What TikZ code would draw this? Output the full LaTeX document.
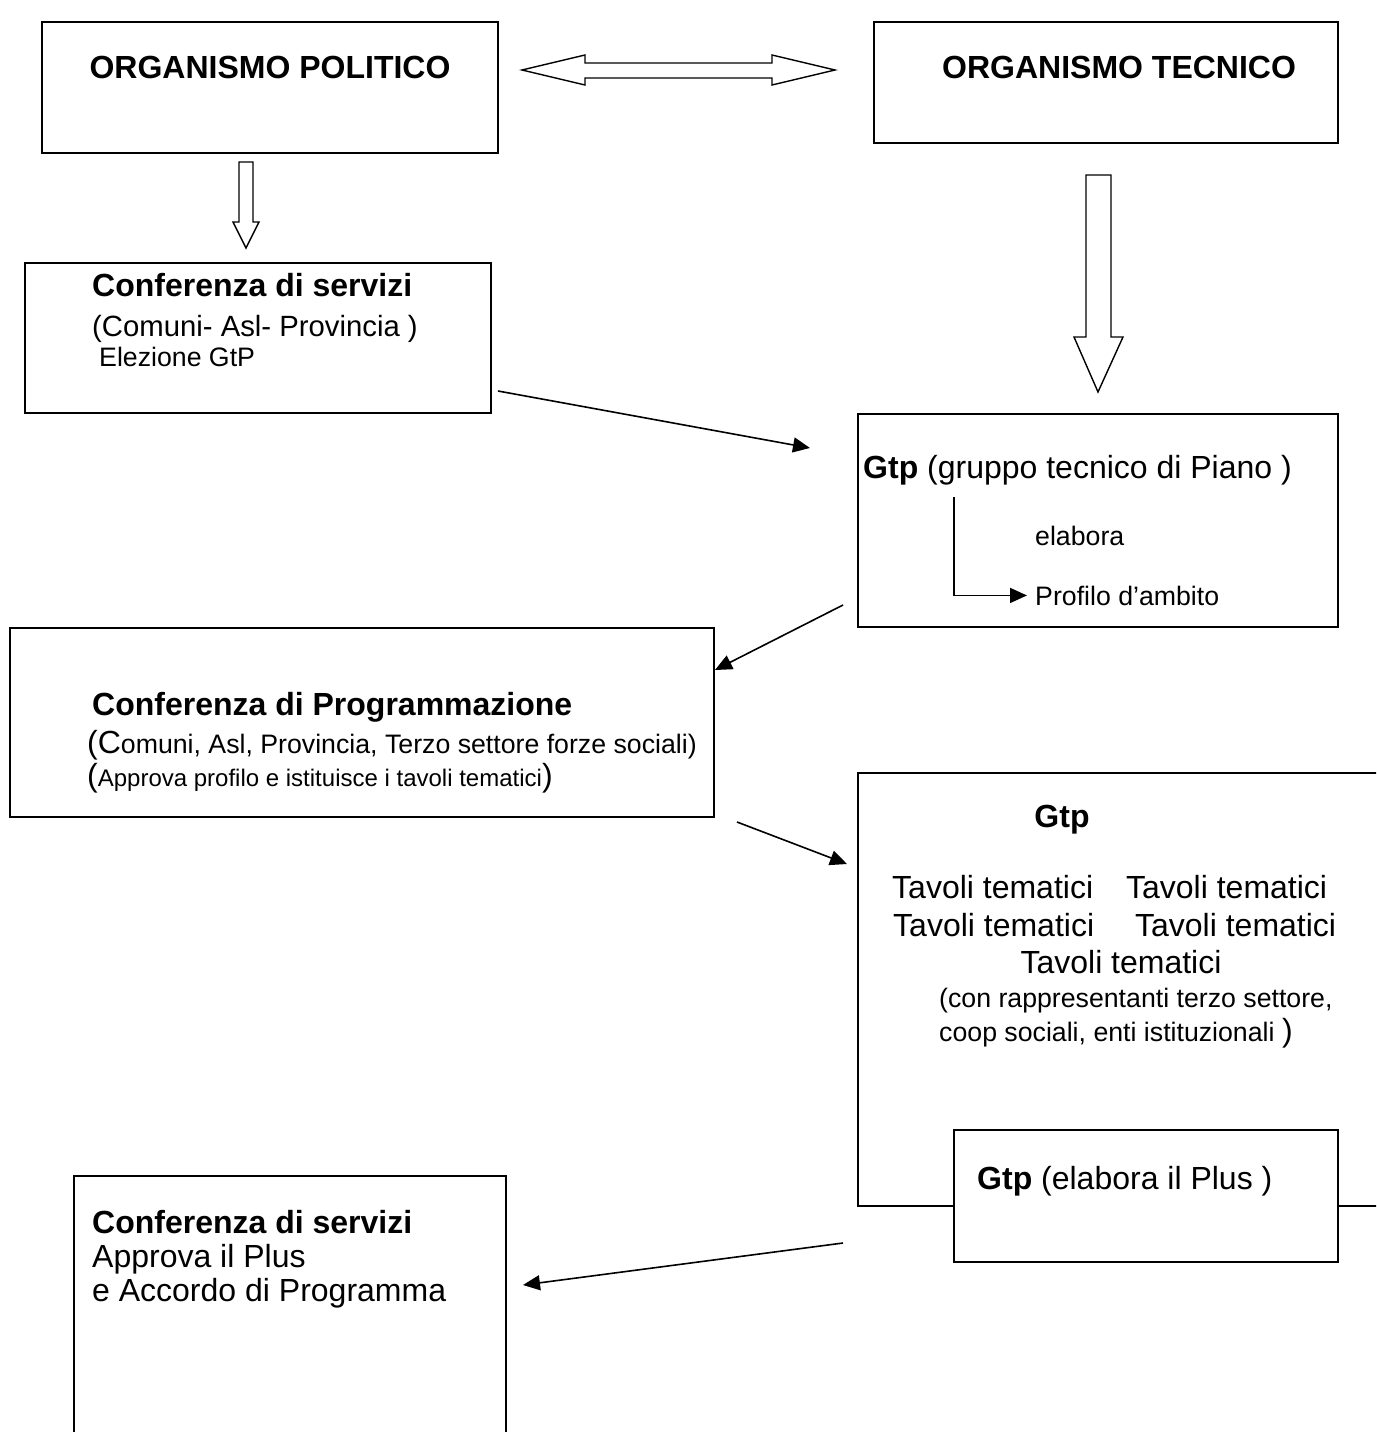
\documentclass[tikz,border=0pt]{standalone}
\usepackage{fontspec}
\setmainfont{Liberation Sans}
\usetikzlibrary{arrows.meta}

\newcommand\fsA{\fontsize{32}{37}\selectfont}
\newcommand\fsB{\fontsize{29.3}{34}\selectfont}
\newcommand\fsC{\fontsize{26.7}{31}\selectfont}
\newcommand\fsD{\fontsize{24}{28}\selectfont}

\begin{document}
\begin{tikzpicture}[x=1pt, y=-1pt,
    box/.style={draw, line width=1.6pt, fill=white, inner sep=0pt},
    txt/.style={anchor=base west, inner sep=0pt, font=\fsA},
    hollow/.style={draw, line width=1.4pt, fill=white, line join=miter},
    link/.style={line width=1.6pt, -{Triangle[length=17pt,width=15pt]}}
  ]
  \clip (0,0) rectangle (1376,1432);
  \fill[white] (0,0) rectangle (1376,1432);

  % Define coordinates
  \coordinate (a1s) at (498,391);
  \coordinate (a1e) at (810,448);
  \coordinate (a2s) at (843,605);
  \coordinate (a2e) at (715,670);
  \coordinate (a3s) at (737,822);
  \coordinate (a3e) at (847,864);
  \coordinate (a4s) at (843,1243);
  \coordinate (a4e) at (523,1285);
  \coordinate (ltop) at (954,497);

  % Boxes
  \node[box, minimum width=456, minimum height=131] (pol) at (270,87.5) {};
  \node[box, minimum width=464, minimum height=121] (tec) at (1106,82.5) {};
  \node[box, minimum width=466, minimum height=150] (cs1) at (258,338) {};
  \node[box, minimum width=480, minimum height=213] (gtp1) at (1098,520.5) {};
  \node[box, minimum width=704, minimum height=189] (prog) at (362,722.5) {};
  \node[box, minimum width=542, minimum height=433] (gtp2) at (1129,989.5) {};
  \node[box, minimum width=384, minimum height=132] (plus) at (1146,1196) {};
  \node[box, minimum width=432, minimum height=284] (cs2) at (290,1318) {};

  % Texts
  \node[txt, anchor=base] (polt) at (270,78) {\bfseries ORGANISMO POLITICO};
  \node[txt] (tect) at (942,78) {\bfseries ORGANISMO TECNICO};

  \node[txt] (cs1a) at (92,296) {\bfseries Conferenza di servizi};
  \node[txt, font=\fsB] (cs1b) at (92,336) {(Comuni- Asl- Provincia )};
  \node[txt, font=\fsC] (cs1c) at (99,366) {Elezione GtP};

  \node[txt] (gtp1a) at (863,478) {\textbf{Gtp} (gruppo tecnico di Piano )};
  \node[txt, font=\fsC] (elab) at (1035,545) {elabora};
  \node[txt, font=\fsC] (prof) at (1035,605) {Profilo d’ambito};

  \node[txt] (proga) at (92,715) {\bfseries Conferenza di Programmazione};
  \node[txt] (progb) at (87,753) {(C{\fsC omuni, Asl, Provincia, Terzo settore forze sociali)}};
  \node[txt] (progc) at (87,786) {({\fsD Approva profilo e istituisce i tavoli tematici})};

  \node[txt, anchor=base] (gtp2a) at (1062,827) {\bfseries Gtp};
  \node[txt] (tav1) at (892,898) {Tavoli tematici\hspace{33pt}Tavoli tematici};
  \node[txt] (tav2) at (893,936) {Tavoli tematici\hspace{41pt}Tavoli tematici};
  \node[txt, anchor=base] (tav3) at (1121,973) {Tavoli tematici};
  \node[txt, font=\fsC] (rapp1) at (939,1007) {(con rappresentanti terzo settore,};
  \node[txt, font=\fsC] (rapp2) at (939,1041) {coop sociali, enti istituzionali {\fsA)}};

  \node[txt] (plust) at (977,1189) {\textbf{Gtp} (elabora il Plus )};

  \node[txt] (cs2a) at (92,1233) {\bfseries Conferenza di servizi};
  \node[txt] (cs2b) at (92,1267) {Approva il Plus};
  \node[txt] (cs2c) at (92,1301) {e Accordo di Programma};

  % Block arrows
  \draw[hollow] (522,70) -- (585,55) -- (585,63) -- (772,63) -- (772,55) -- (835,70)
    -- (772,85) -- (772,78) -- (585,78) -- (585,85) -- cycle;
  \draw[hollow] (239,162) -- (253,162) -- (253,222) -- (259,222) -- (246,248)
    -- (233,222) -- (239,222) -- cycle;
  \draw[hollow] (1086,175) -- (1111,175) -- (1111,337) -- (1123,337) -- (1098,392)
    -- (1074,337) -- (1086,337) -- cycle;

  % Connectors
  \draw[link] (a1s) -- (a1e);
  \draw[link] (a2s) -- (a2e);
  \draw[link] (a3s) -- (a3e);
  \draw[link] (a4s) -- (a4e);
  \draw[link, shorten >=8pt] (ltop) |- (prof.west);

\end{tikzpicture}
\end{document}
